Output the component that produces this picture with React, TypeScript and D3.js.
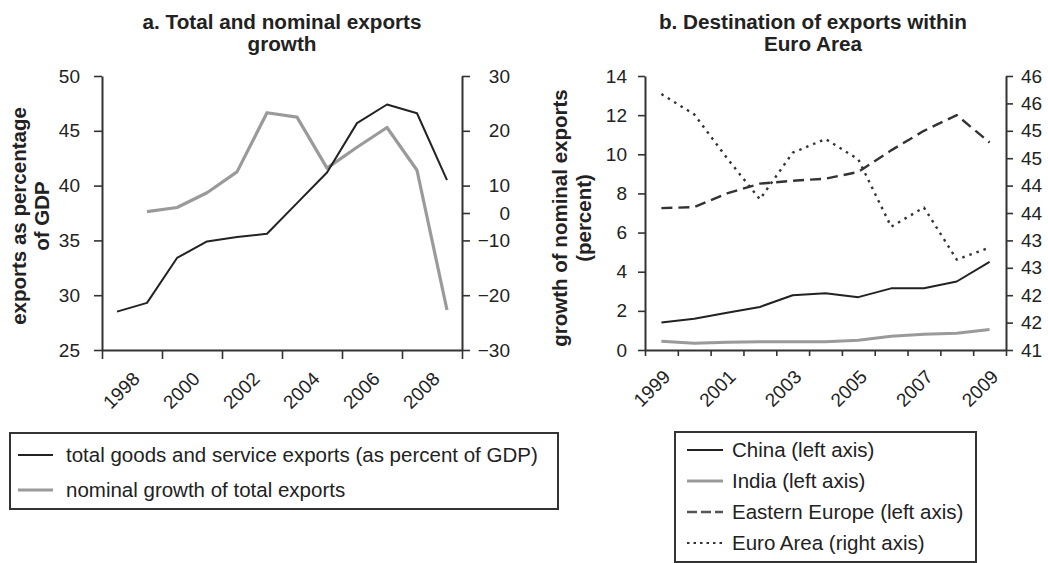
import * as d3 from 'd3';
import { useRef, useEffect } from "react"

// ---- panel a: total and nominal exports growth ----
const yearsA = [1997, 1998, 1999, 2000, 2001, 2002, 2003, 2004, 2005, 2006, 2007, 2008]
const totalExports = [28.5, 29.3, 33.4, 34.9, 35.3, 35.6, 38.4, 41.2, 45.7, 47.4, 46.6, 40.5]
const growthYears = [1998, 1999, 2000, 2001, 2002, 2003, 2004, 2005, 2006, 2007, 2008]
const nominalGrowth = [0.5, 2, 7.4, 12.5, 23.3, 22.5, 13.2, 17, 20.6, 12.8, -22.7]
const exportTicks = [25, 30, 35, 40, 45, 50]
const growthTicks = [-30, -20, -10, 0, 10, 20, 30]
// the original figure places the growth ticks against the left axis like this
const growthTickAt = [25, 30, 35, 37.5, 40, 45, 50]
const yearLabelsA = [1998, 2000, 2002, 2004, 2006, 2008]
const legendA = ["total goods and service exports (as percent of GDP)", "nominal growth of total exports"]

// ---- panel b: destination of exports within euro area ----
const yearsB = [1999, 2000, 2001, 2002, 2003, 2004, 2005, 2006, 2007, 2008, 2009]
const china = [1.4, 1.6, 1.9, 2.2, 2.8, 2.9, 2.7, 3.15, 3.15, 3.5, 4.5]
const india = [0.45, 0.35, 0.4, 0.42, 0.42, 0.42, 0.5, 0.7, 0.8, 0.85, 1.05]
const easternEurope = [7.25, 7.3, 8.0, 8.5, 8.65, 8.75, 9.1, 10.2, 11.2, 12.0, 10.6]
const euroArea = [45.67, 45.3, 44.5, 43.75, 44.6, 44.85, 44.48, 43.25, 43.6, 42.65, 42.87]
const shareTicks = [0, 2, 4, 6, 8, 10, 12, 14]
const euroTicks = [41, 41.5, 42, 42.5, 43, 43.5, 44, 44.5, 45, 45.5, 46]
const euroTickLabels = ["41", "42", "42", "43", "43", "44", "44", "45", "45", "46", "46"]
const yearLabelsB = [1999, 2001, 2003, 2005, 2007, 2009]
const legendB = ["China (left axis)", "India (left axis)", "Eastern Europe (left axis)", "Euro Area (right axis)"]

const FONT = '"Liberation Sans", Arial, Helvetica, sans-serif'
const INK = "#222"
const GRAY = "#9a9a9a"

function App() {
    const ref = useRef<SVGSVGElement | null>(null)

    useEffect(() => {
        renderChart();
    }, [])

    function styleAxis(g: any, size: number) {
        g.select(".domain").attr("stroke", "#333").attr("stroke-width", 2)
        g.selectAll(".tick line").attr("stroke", "#333").attr("stroke-width", 1.6)
        g.selectAll(".tick text").attr("fill", INK).style("font-size", size + "px").style("font-family", FONT)
    }

    function title(svg: any, x: number, lines: string[]) {
        lines.forEach((t, i) => {
            svg.append("text")
                .attr("x", x).attr("y", 29 + i * 22)
                .attr("text-anchor", "middle")
                .style("font-family", FONT).style("font-size", "20.7px").style("font-weight", "bold")
                .attr("fill", INK)
                .text(t)
        })
    }

    function yTitle(svg: any, xs: number[], cy: number, lines: string[]) {
        lines.forEach((t, i) => {
            svg.append("text")
                .attr("transform", "translate(" + xs[i] + "," + cy + ") rotate(-90)")
                .attr("text-anchor", "middle")
                .style("font-family", FONT).style("font-size", "20.5px").style("font-weight", "bold")
                .attr("fill", INK)
                .text(t)
        })
    }

    function renderChart() {
        const svg = d3.select(ref.current!)
        svg.selectAll("*").remove()

        const top = 76, bottom = 350

        // ================= panel a =================
        const xA = d3.scaleLinear().domain([1996.5, 2008.5]).range([102, 462])
        const yA = d3.scaleLinear().domain([25, 50]).range([bottom, top])
        const yG = d3.scaleLinear().domain(growthTicks).range(growthTickAt.map(v => yA(v)))

        title(svg, 282, ["a. Total and nominal exports", "growth"])
        yTitle(svg, [26, 49], 216, ["exports as percentage", "of GDP"])

        svg.append("g").attr("transform", "translate(102,0)")
            .call(d3.axisLeft(yA).tickValues(exportTicks).tickSize(8).tickSizeOuter(0).tickPadding(14))
            .call((g: any) => styleAxis(g, 19))

        const rA = svg.append("g").attr("transform", "translate(462,0)")
            .call(d3.axisRight(yG).tickValues(growthTicks).tickSize(8).tickSizeOuter(0)
                .tickFormat((d: any) => d < 0 ? "\u2212" + Math.abs(d) : String(d)))
            .call((g: any) => styleAxis(g, 19))
        rA.selectAll(".tick text").attr("text-anchor", "end").attr("x", 48)

        const bA = svg.append("g").attr("transform", "translate(0," + bottom + ")")
            .call(d3.axisBottom(xA).tickValues(d3.range(1996.5, 2009, 2)).tickSize(9).tickSizeOuter(0).tickFormat(() => ""))
        styleAxis(bA, 19)

        svg.append("g").selectAll("text").data(yearLabelsA).enter().append("text")
            .attr("transform", d => "translate(" + (xA(d) - 6) + ",380) rotate(-45)")
            .attr("text-anchor", "end")
            .style("font-family", FONT).style("font-size", "19px").attr("fill", INK)
            .text(d => d)

        const lineA = d3.line<number>().x((d, i) => xA(yearsA[i])).y(d => yA(d))
        const lineG = d3.line<number>().x((d, i) => xA(growthYears[i])).y(d => yG(d))

        svg.append("path").datum(nominalGrowth).attr("d", lineG)
            .attr("fill", "none").attr("stroke", GRAY).attr("stroke-width", 3.2).attr("stroke-linejoin", "round")
        svg.append("path").datum(totalExports).attr("d", lineA)
            .attr("fill", "none").attr("stroke", INK).attr("stroke-width", 2).attr("stroke-linejoin", "round")

        // legend a
        const lgA = svg.append("g")
        lgA.append("rect").attr("x", 10).attr("y", 433).attr("width", 548).attr("height", 76)
            .attr("fill", "white").attr("stroke", "#333").attr("stroke-width", 2)
        legendA.forEach((t, i) => {
            const cy = 455 + i * 35
            lgA.append("line").attr("x1", 18).attr("x2", 53).attr("y1", cy).attr("y2", cy)
                .attr("stroke", i === 0 ? INK : GRAY).attr("stroke-width", i === 0 ? 2 : 3)
            lgA.append("text").attr("x", 66).attr("y", cy).attr("dy", "0.35em")
                .style("font-family", FONT).style("font-size", "20.5px").attr("fill", INK)
                .text(t)
        })

        // ================= panel b =================
        const xB = d3.scaleLinear().domain([1998.5, 2009.5]).range([645, 1006])
        const yB = d3.scaleLinear().domain([0, 14]).range([bottom, top])
        const yE = d3.scaleLinear().domain([41, 46]).range([bottom, top])

        title(svg, 813, ["b. Destination of exports within", "Euro Area"])
        yTitle(svg, [567, 591], 218, ["growth of nominal exports", "(percent)"])

        svg.append("g").attr("transform", "translate(645,0)")
            .call(d3.axisLeft(yB).tickValues(shareTicks).tickSize(7).tickSizeOuter(0).tickPadding(11))
            .call((g: any) => styleAxis(g, 19))

        svg.append("g").attr("transform", "translate(1006,0)")
            .call(d3.axisRight(yE).tickValues(euroTicks).tickSize(7).tickSizeOuter(0).tickPadding(8)
                .tickFormat((d: any, i: number) => euroTickLabels[i]))
            .call((g: any) => styleAxis(g, 19))

        const bB = svg.append("g").attr("transform", "translate(0," + bottom + ")")
            .call(d3.axisBottom(xB).tickValues(d3.range(1998.5, 2010, 1)).tickSize(6).tickSizeOuter(0).tickFormat(() => ""))
        styleAxis(bB, 19)

        svg.append("g").selectAll("text").data(yearLabelsB).enter().append("text")
            .attr("transform", d => "translate(" + (xB(d) + 10) + ",378) rotate(-45)")
            .attr("text-anchor", "end")
            .style("font-family", FONT).style("font-size", "19px").attr("fill", INK)
            .text(d => d)

        const lineB = d3.line<number>().x((d, i) => xB(yearsB[i])).y(d => yB(d))
        const lineE = d3.line<number>().x((d, i) => xB(yearsB[i])).y(d => yE(d))

        const seriesB = [
            { values: india, line: lineB, color: GRAY, width: 3, dash: null },
            { values: china, line: lineB, color: INK, width: 2, dash: null },
            { values: easternEurope, line: lineB, color: "#333", width: 2.4, dash: "11,6" },
            { values: euroArea, line: lineE, color: "#333", width: 2.4, dash: "2.5,5" },
        ]
        seriesB.forEach(s => {
            svg.append("path").datum(s.values).attr("d", s.line)
                .attr("fill", "none").attr("stroke", s.color).attr("stroke-width", s.width)
                .attr("stroke-dasharray", s.dash).attr("stroke-linejoin", "round")
        })

        // legend b
        const legendStyle = [
            { color: INK, width: 2, dash: null },
            { color: GRAY, width: 3, dash: null },
            { color: "#555", width: 2.4, dash: "10,4" },
            { color: "#333", width: 2, dash: "2.5,4" },
        ]
        const lgB = svg.append("g")
        lgB.append("rect").attr("x", 675).attr("y", 432).attr("width", 301).attr("height", 130)
            .attr("fill", "white").attr("stroke", "#333").attr("stroke-width", 2)
        legendB.forEach((t, i) => {
            const cy = 450 + i * 31
            lgB.append("line").attr("x1", 687).attr("x2", 723).attr("y1", cy).attr("y2", cy)
                .attr("stroke", legendStyle[i].color).attr("stroke-width", legendStyle[i].width)
                .attr("stroke-dasharray", legendStyle[i].dash)
            lgB.append("text").attr("x", 732).attr("y", cy).attr("dy", "0.35em")
                .style("font-family", FONT).style("font-size", "20.5px").attr("fill", INK)
                .text(t)
        })
    }

    return (
        <svg
            width={1048}
            height={563}
            ref={ref}
            style={{ position: 'absolute', left: 0, top: 0, background: 'white' }}
        />
    )
}

export default App;
